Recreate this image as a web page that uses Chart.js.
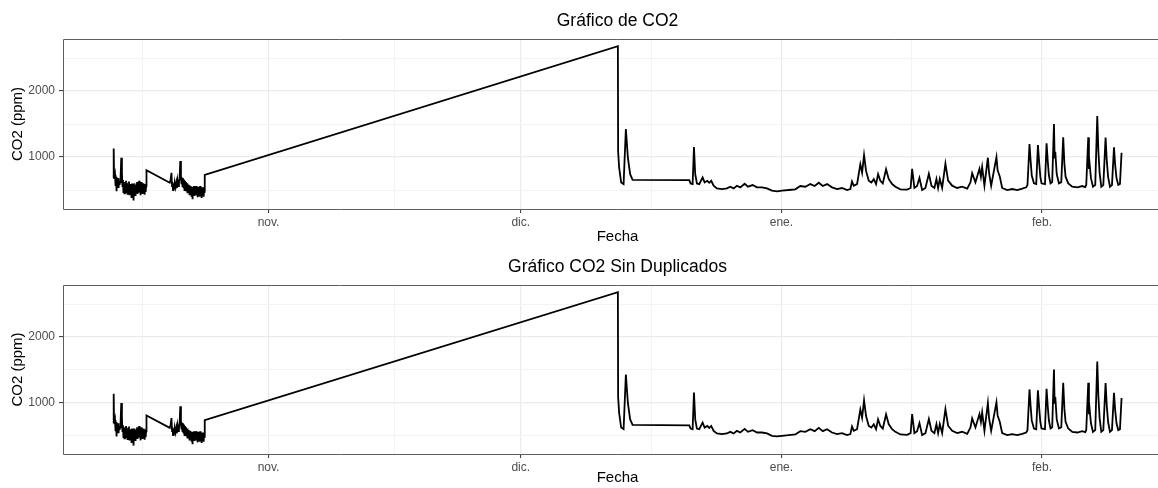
<!DOCTYPE html>
<html>
<head>
<meta charset="utf-8">
<title>CO2</title>
<script src="https://cdn.jsdelivr.net/npm/chart.js@4.4.0/dist/chart.umd.min.js"></script>
<style>
	html, body { margin: 0; padding: 0; background: #fff; overflow: hidden; width: 1158px; height: 488px; }
	canvas { position: absolute; left: 0; }
	#graficoCO2 { top: 0; width: 1172px; height: 246px; }
	#graficoSinDup { top: 246px; width: 1172px; height: 242px; }
</style>
</head>
<body>
<canvas id="graficoCO2" width="1172" height="246"></canvas>
<canvas id="graficoSinDup" width="1172" height="242"></canvas>
<script>
// Fecha en dias desde el 1 de octubre (1 nov = 31)
const fechas = [
	// octubre, primer tramo
	12.55, 12.58, 12.62, 12.68, 12.74, 12.80, 12.86, 12.92, 12.98, 13.04,
	13.10, 13.16, 13.22, 13.28, 13.34, 13.40, 13.48, 13.56, 13.62, 13.68,
	13.74, 13.80, 13.86, 13.92, 13.98, 14.04, 14.10, 14.16, 14.22, 14.28,
	14.34, 14.40, 14.46, 14.52, 14.58, 14.64, 14.70, 14.76, 14.82, 14.88,
	14.94, 15.00, 15.06, 15.12, 15.18, 15.24, 15.30, 15.36, 15.42, 15.48,
	15.54, 15.60, 15.66, 15.72, 15.78, 15.84, 15.90, 15.96, 16.02, 16.08,
	16.14, 16.20, 16.26, 16.32, 16.38, 16.44, 16.48,
	// octubre, segundo tramo
	19.25, 19.35, 19.45, 19.52, 19.58, 19.64, 19.70, 19.78, 19.86, 19.94,
	20.02, 20.10, 20.18, 20.26, 20.34, 20.42, 20.50, 20.58, 20.64, 20.70,
	20.76, 20.82, 20.88, 20.94, 21.00, 21.06, 21.12, 21.18, 21.24, 21.30,
	21.36, 21.42, 21.48, 21.54, 21.60, 21.66, 21.72, 21.78, 21.84, 21.90,
	21.96, 22.02, 22.08, 22.14, 22.20, 22.26, 22.32, 22.38, 22.44, 22.50,
	22.56, 22.62, 22.68, 22.74, 22.80, 22.86, 22.92, 22.98, 23.04, 23.10,
	23.16, 23.22, 23.28, 23.34, 23.40, 23.42,
	// diciembre a febrero
	72.55, 72.58, 72.70, 72.94, 73.23, 73.50, 73.74, 74.01, 74.30, 81.04,
	81.20, 81.44, 81.60, 81.75, 81.95, 82.23, 82.63, 82.87, 83.18, 83.42,
	83.65, 83.94, 84.33, 84.93, 85.52, 85.92, 86.32, 86.71, 87.11, 87.63,
	88.02, 88.58, 89.10, 89.69, 90.29, 90.88, 91.48, 92.07, 92.87, 93.65,
	94.25, 94.85, 95.44, 95.96, 96.44, 96.92, 97.43, 98.02, 98.62, 99.21,
	99.81, 100.20, 100.40, 100.61, 101.00, 101.39, 101.60, 101.83, 102.07, 102.39,
	102.70, 102.99, 103.26, 103.50, 103.77, 104.06, 104.45, 104.77, 105.17, 105.56,
	106.15, 106.95, 107.37, 107.55, 107.82, 108.14, 108.42, 108.74, 109.13, 109.54,
	109.85, 110.20, 110.44, 110.64, 110.84, 111.12, 111.51, 111.83, 112.31, 112.90,
	113.50, 114.10, 114.49, 114.69, 115.08, 115.56, 115.73, 115.88, 116.15, 116.56,
	116.70, 116.95, 117.58, 117.72, 117.98, 118.26, 118.86, 119.45, 120.05, 120.64,
	121.12, 121.27, 121.51, 121.64, 121.78, 122.04, 122.31, 122.51, 122.67, 122.80,
	122.94, 123.35, 123.54, 123.68, 123.82, 124.01, 124.21, 124.42, 124.50, 124.58,
	124.75, 125.01, 125.29, 125.52, 125.66, 125.80, 126.12, 126.60, 127.19, 127.79,
	128.14, 128.26, 128.50, 128.58, 128.66, 128.82, 129.06, 129.33, 129.57, 129.70,
	129.85, 130.05, 130.29, 130.56, 130.70, 130.86, 131.08, 131.32, 131.56, 131.70,
	131.86, 132.07, 132.27, 132.46
];

// CO2 en ppm, mismo orden que fechas
const co2 = [
	680, 1130, 760, 690, 730, 560, 700, 480, 650, 600,
	680, 530, 640, 580, 620, 700, 990, 760, 560, 650,
	470, 620, 450, 600, 520, 640, 470, 610, 440, 580,
	500, 630, 420, 590, 460, 560, 380, 600, 420, 570,
	340, 600, 450, 540, 410, 580, 470, 620, 440, 600,
	460, 640, 470, 570, 420, 620, 480, 560, 440, 600,
	460, 590, 430, 570, 470, 560, 800,

	610, 660, 760, 560, 620, 500, 600, 520, 590, 540,
	610, 530, 640, 560, 600, 680, 940, 720, 600, 690,
	560, 680, 540, 660, 500, 640, 530, 620, 480, 600,
	450, 580, 500, 570, 420, 560, 470, 540, 400, 550,
	360, 540, 440, 560, 410, 530, 450, 560, 420, 540,
	390, 550, 440, 520, 400, 560, 430, 530, 380, 540,
	440, 520, 400, 540, 460, 730,

	2680, 1080, 840, 615, 590, 1425, 990, 740, 655, 650,
	600, 590, 1150, 740, 600, 590, 690, 615, 640, 610,
	640, 565, 525, 515, 525, 550, 525, 565, 540, 595,
	550, 575, 540, 540, 525, 490, 480, 490, 500, 510,
	560, 550, 590, 560, 610, 560, 590, 540, 515, 530,
	500, 515, 630, 565, 590, 890, 765, 1030, 790, 640,
	615, 665, 590, 740, 640, 600, 815, 665, 590, 550,
	510, 505, 530, 821, 531, 560, 684, 500, 530, 745,
	566, 531, 668, 531, 668, 531, 898, 643, 566, 531,
	551, 520, 617, 755, 617, 821, 700, 847, 566, 990,
	760, 566, 1000, 800, 700, 531, 500, 515, 500, 520,
	540, 576, 1197, 950, 720, 601, 590, 1182, 900, 700,
	601, 590, 1207, 940, 720, 601, 620, 1500, 980, 1080,
	740, 601, 620, 1298, 900, 702, 601, 550, 540, 560,
	545, 576, 1298, 820, 900, 680, 550, 576, 1621, 1100,
	760, 550, 576, 1295, 950, 700, 550, 576, 1146, 880,
	680, 576, 590, 1066
];

// Eje X: inicio de cada mes y puntos medios (rejilla menor)
const mesesDia = [31, 61, 92, 123];
const mesesEtiqueta = ['nov.', 'dic.', 'ene.', 'feb.'];
const mesesMedios = [16, 46, 76.5, 107.5, 138];

// Eje Y
const ticksY = [500, 1000, 1500, 2000, 2500];
const etiquetasY = [1000, 2000];

const fuente = "'Liberation Sans', Arial, Helvetica, sans-serif";

// marco gris del panel (el lado derecho queda fuera de la ventana)
const bordePanel = {
	id: 'bordePanel',
	afterDatasetsDraw(chart) {
		const a = chart.chartArea;
		const c = chart.ctx;
		const l = Math.round(a.left) + 0.5;
		const t = Math.round(a.top) + 0.5;
		const b = Math.round(a.bottom) + 0.5;
		c.save();
		c.strokeStyle = '#5e5e5e';
		c.lineWidth = 1;
		c.beginPath();
		c.moveTo(a.right, t);
		c.lineTo(l, t);
		c.lineTo(l, b);
		c.lineTo(a.right, b);
		c.stroke();
		c.restore();
	}
};

// titulo centrado sobre el panel, no sobre todo el canvas
const tituloPanel = {
	id: 'tituloPanel',
	afterDraw(chart, args, opts) {
		const a = chart.chartArea;
		const c = chart.ctx;
		c.save();
		c.fillStyle = '#000';
		c.font = '17.5px ' + fuente;
		c.textAlign = 'center';
		c.textBaseline = 'middle';
		c.fillText(opts.texto, (a.left + a.right) / 2, 21);
		c.restore();
	}
};

function crearGrafico(id, titulo, altoEjeX, padFecha) {
	const puntos = fechas.map((d, i) => ({ x: d, y: co2[i] }));
	const canvas = document.getElementById(id).getContext('2d');
	return new Chart(canvas, {
		type: 'line',
		data: {
			datasets: [{
				data: puntos,
				borderColor: '#000',
				borderWidth: 1.8,
				pointRadius: 0,
				tension: 0,
				fill: false
			}]
		},
		options: {
			responsive: false,
			animation: false,
			events: [],
			layout: { padding: { top: 39, left: 0, right: 0, bottom: 0 } },
			plugins: {
				legend: { display: false },
				tooltip: { enabled: false },
				title: { display: false },
				tituloPanel: { texto: titulo }
			},
			scales: {
				x: {
					type: 'linear',
					min: 6.55,
					max: 138.46,
					afterBuildTicks: (s) => {
						s.ticks = mesesMedios.concat(mesesDia).sort((a, b) => a - b).map((v) => ({ value: v }));
					},
					afterFit: (s) => { s.height = altoEjeX; },
					border: { display: false },
					grid: {
						color: (c) => mesesDia.includes(c.tick.value) ? '#ebebeb' : '#f3f3f3',
						lineWidth: (c) => mesesDia.includes(c.tick.value) ? 1.2 : 1,
						tickLength: 4,
						tickWidth: 1,
						tickColor: (c) => mesesDia.includes(c.tick.value) ? '#333' : 'rgba(0,0,0,0)'
					},
					ticks: {
						autoSkip: false,
						maxRotation: 0,
						padding: 2,
						color: '#4d4d4d',
						font: { family: fuente, size: 12 },
						callback: (v) => {
							const i = mesesDia.indexOf(v);
							return i >= 0 ? mesesEtiqueta[i] : '';
						}
					},
					title: {
						display: true,
						text: 'Fecha',
						color: '#000',
						font: { family: fuente, size: 15 },
						padding: { top: 0, bottom: padFecha }
					}
				},
				y: {
					min: 212,
					max: 2790,
					afterBuildTicks: (s) => {
						s.ticks = ticksY.map((v) => ({ value: v }));
					},
					afterFit: (s) => { s.width = 63; },
					border: { display: false },
					grid: {
						color: (c) => etiquetasY.includes(c.tick.value) ? '#ebebeb' : '#f3f3f3',
						lineWidth: (c) => etiquetasY.includes(c.tick.value) ? 1.2 : 1,
						tickLength: 4,
						tickWidth: 1,
						tickColor: (c) => etiquetasY.includes(c.tick.value) ? '#333' : 'rgba(0,0,0,0)'
					},
					ticks: {
						padding: 4,
						color: '#4d4d4d',
						font: { family: fuente, size: 12 },
						callback: (v) => etiquetasY.includes(v) ? String(v) : ''
					},
					title: {
						display: true,
						text: 'CO2 (ppm)',
						color: '#000',
						font: { family: fuente, size: 15 },
						padding: { top: 9, bottom: 0 }
					}
				}
			}
		},
		plugins: [bordePanel, tituloPanel]
	});
}

crearGrafico('graficoCO2', 'Gráfico de CO2', 37, 0);
crearGrafico('graficoSinDup', 'Gráfico CO2 Sin Duplicados', 34, 1);
</script>
</body>
</html>
